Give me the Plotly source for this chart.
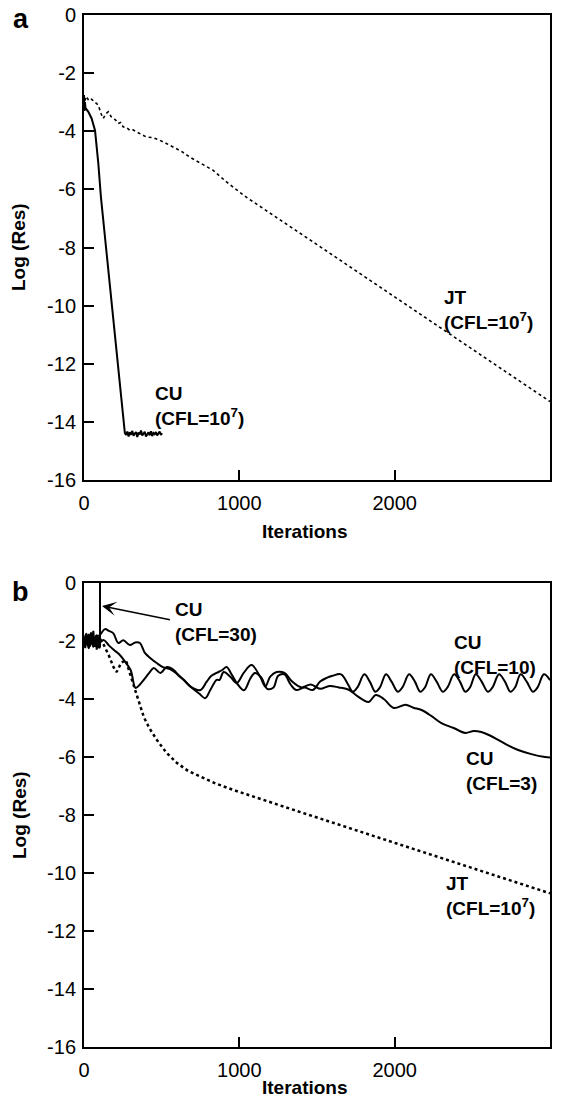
import plotly.graph_objects as go

# ---------------- Panel a data ----------------
a_cu_iter = [0, 3, 6, 10, 16, 28, 49, 71, 92, 109, 263,
             271, 279, 287, 295, 303, 311, 319, 327, 335, 343, 351, 359, 367, 375,
             383, 391, 399, 407, 415, 423, 431, 439, 447, 455, 463, 471, 479, 487,
             495, 503]
a_cu_res = [-2.75, -3.3, -3.0, -3.2, -3.25, -3.33, -3.56, -3.97, -5.1, -6.27, -14.38,
            -14.45, -14.33, -14.5, -14.36, -14.44, -14.31, -14.48, -14.4, -14.35, -14.52,
            -14.37, -14.43, -14.3, -14.47, -14.39, -14.34, -14.5, -14.41, -14.36, -14.46,
            -14.32, -14.49, -14.38, -14.42, -14.35, -14.47, -14.4, -14.33, -14.45, -14.39]

a_jt_iter = [5, 17, 30, 49, 70, 92, 110, 124, 140, 156, 175, 188, 205, 220, 236, 252,
             275, 295, 315, 338, 370, 402, 440, 488, 530, 574, 630, 681, 750, 830, 930,
             1045, 1500, 2000, 2500, 3000]
a_jt_res = [-2.95, -2.8, -2.95, -2.9, -3.0, -3.1, -3.4, -3.56, -3.4, -3.33, -3.5, -3.56,
            -3.62, -3.73, -3.7, -3.85, -3.88, -3.97, -3.95, -4.02, -4.1, -4.2, -4.22, -4.31,
            -4.42, -4.54, -4.7, -4.89, -5.1, -5.34, -5.8, -6.27, -7.9, -9.7, -11.5, -13.3]

# ---------------- Panel b data ----------------
b_cu30_iter = [0, 8, 15, 22, 30, 38, 45, 52, 60, 68, 75, 82, 90, 97, 103, 103]
b_cu30_res = [-1.9, -2.25, -1.8, -2.15, -1.75, -2.2, -1.7, -2.05, -1.65, -2.2, -1.9,
              -2.3, -1.85, -2.25, -2.2, 0.0]

b_cu10_iter = [0, 15, 30, 45, 60, 80, 100, 128, 160, 193, 225, 257, 300, 332, 360, 385,
               420, 449, 492, 533, 578, 610, 642, 685, 749, 789, 820, 854, 890, 918, 950,
               990, 1030, 1070, 1100, 1140, 1180, 1220, 1250, 1290, 1330, 1366, 1420, 1473,
               1520, 1559, 1600, 1655, 1700, 1730, 1760, 1805, 1840, 1875, 1905, 1944, 1980,
               2020, 2050, 2093, 2130, 2165, 2195, 2233, 2270, 2310, 2340, 2383, 2420, 2455,
               2485, 2522, 2560, 2600, 2630, 2672, 2710, 2745, 2775, 2811, 2850, 2890, 2920,
               2961, 3000]
b_cu10_res = [-2.0, -1.75, -2.2, -1.85, -2.15, -1.8, -2.05, -1.97, -2.15, -2.31, -2.45,
              -2.66, -3.0, -3.62, -3.5, -3.34, -3.1, -2.93, -3.1, -2.9, -3.0, -3.2, -3.34,
              -3.57, -3.69, -3.41, -3.2, -3.1, -3.0, -2.9, -3.15, -3.5, -3.7, -3.3, -3.1,
              -3.25, -3.65, -3.6, -3.2, -3.15, -3.5, -3.69, -3.6, -3.69, -3.4, -3.28, -3.2,
              -3.15, -3.5, -3.75, -3.6, -3.15, -3.4, -3.75, -3.6, -3.15, -3.4, -3.75, -3.6,
              -3.15, -3.4, -3.75, -3.6, -3.15, -3.4, -3.75, -3.6, -3.15, -3.4, -3.75, -3.6,
              -3.15, -3.4, -3.75, -3.6, -3.15, -3.4, -3.75, -3.6, -3.15, -3.4, -3.75, -3.6,
              -3.15, -3.35]

b_cu3_iter = [0, 15, 30, 45, 60, 80, 100, 135, 160, 188, 221, 253, 295, 330, 360, 392,
              430, 468, 508, 565, 621, 685, 739, 781, 813, 854, 873, 899, 942, 983, 1028,
              1079, 1134, 1167, 1199, 1240, 1291, 1340, 1400, 1460, 1520, 1580, 1640, 1708,
              1760, 1833, 1878, 1930, 1994, 2070, 2120, 2173, 2240, 2301, 2380, 2455, 2510,
              2558, 2610, 2667, 2730, 2795, 2880, 2968, 3000]
b_cu3_res = [-2.1, -1.9, -2.25, -1.9, -2.2, -1.85, -1.8, -1.59, -1.65, -1.73, -2.07,
             -1.97, -2.14, -2.05, -2.07, -2.41, -2.6, -2.76, -2.9, -3.0, -3.23, -3.57,
             -3.8, -3.97, -3.69, -3.34, -3.34, -3.07, -3.23, -3.45, -3.1, -2.83, -3.23,
             -3.57, -3.23, -3.07, -3.1, -3.4, -3.6, -3.5, -3.65, -3.55, -3.6, -3.69, -3.9,
             -4.1, -3.86, -4.0, -4.31, -4.2, -4.3, -4.38, -4.6, -4.83, -5.0, -5.17, -5.1,
             -5.14, -5.25, -5.41, -5.6, -5.76, -5.9, -6.0, -6.02]

b_jt_iter = [0, 20, 40, 60, 80, 100, 128, 160, 190, 210, 240, 270, 300, 321, 350, 385,
             420, 469, 530, 597, 670, 751, 850, 963, 1080, 1200, 1393, 2000, 2500, 3000]
b_jt_res = [-2.0, -1.8, -2.15, -1.85, -2.1, -1.9, -2.14, -2.5, -2.9, -3.07, -2.75, -2.66,
            -3.2, -3.57, -4.0, -4.62, -5.0, -5.41, -5.85, -6.2, -6.48, -6.68, -6.92, -7.14,
            -7.35, -7.55, -7.9, -8.96, -9.83, -10.7]

x_ticks = [0, 1000, 2000, 3000]
x_tick_text = ["0", "1000", "2000", "3000"]
y_ticks = [0, -2, -4, -6, -8, -10, -12, -14, -16]
y_tick_text = ["0", "-2", "-4", "-6", "-8", "-10", "-12", "-14", "-16"]

FONT = "Liberation Sans, Arial, Helvetica, sans-serif"
W, H = 570, 1099
XL, XR = 84, 550
A_TOP, A_BOT = 15, 480
B_TOP, B_BOT = 583, 1047

fig = go.Figure()

solid = dict(color="black", width=2)
fig.add_trace(go.Scatter(x=a_cu_iter, y=a_cu_res, mode="lines", line=solid,
                         xaxis="x", yaxis="y", showlegend=False))
fig.add_trace(go.Scatter(x=a_jt_iter, y=a_jt_res, mode="lines",
                         line=dict(color="black", width=1.6, dash="dot"),
                         xaxis="x", yaxis="y", showlegend=False))

fig.add_trace(go.Scatter(x=b_cu30_iter, y=b_cu30_res, mode="lines", line=solid,
                         xaxis="x2", yaxis="y2", showlegend=False))
fig.add_trace(go.Scatter(x=b_cu10_iter, y=b_cu10_res, mode="lines", line=solid,
                         line_shape="spline", xaxis="x2", yaxis="y2", showlegend=False))
fig.add_trace(go.Scatter(x=b_cu3_iter, y=b_cu3_res, mode="lines", line=solid,
                         line_shape="spline", xaxis="x2", yaxis="y2", showlegend=False))
fig.add_trace(go.Scatter(x=b_jt_iter, y=b_jt_res, mode="lines",
                         line=dict(color="black", width=2.5, dash="dot"),
                         xaxis="x2", yaxis="y2", showlegend=False))

axis_common = dict(showline=True, linecolor="black", linewidth=2, mirror=True,
                   ticks="inside", ticklen=10, tickwidth=2, tickcolor="black",
                   showgrid=False, zeroline=False, automargin=False,
                   tickfont=dict(family=FONT, size=20, color="black"))

xdom = [XL / W, XR / W]
xcommon = dict(domain=xdom, range=[0, 3000], tickvals=x_ticks, ticktext=x_tick_text,
               ticklabelstandoff=4, **axis_common)
ycommon = dict(range=[-16, 0], tickvals=y_ticks, ticktext=y_tick_text,
               ticklabelstandoff=2, **axis_common)
fig.update_layout(
    width=W, height=H, autosize=False,
    margin=dict(l=0, r=0, t=0, b=0, autoexpand=False),
    paper_bgcolor="white", plot_bgcolor="white",
    xaxis=dict(anchor="y", **xcommon),
    yaxis=dict(domain=[1 - A_BOT / H, 1 - A_TOP / H], anchor="x", **ycommon),
    xaxis2=dict(anchor="y2", **xcommon),
    yaxis2=dict(domain=[1 - B_BOT / H, 1 - B_TOP / H], anchor="x2", **ycommon),
)

title_font = dict(family=FONT, size=19, color="black")


def paper_text(px, py, text, size=19, angle=0):
    fig.add_annotation(x=px / W, y=1 - py / H, xref="paper", yref="paper", text=text,
                       showarrow=False, xanchor="center", yanchor="middle",
                       textangle=angle, font=dict(family=FONT, size=size, color="black"))


# axis titles
paper_text(305, 531, "<b>Iterations</b>")
paper_text(305, 1087, "<b>Iterations</b>")
paper_text(19, 247, "<b>Log (Res)</b>", angle=-90)
paper_text(19, 815, "<b>Log (Res)</b>", angle=-90)

# panel letters
paper_text(21, 19, "<b>a</b>", size=27)
paper_text(21, 592, "<b>b</b>", size=27)

ann_font = dict(family=FONT, size=19, color="black")


def label(x, y, text, xref, yref):
    fig.add_annotation(x=x, y=y, xref=xref, yref=yref, text=text,
                       showarrow=False, xanchor="left", yanchor="middle", align="left",
                       font=ann_font)


# panel a labels
label(443, -13.45, "<b>CU<br>(CFL=10<sup>7</sup>)</b>", "x", "y")
label(2303, -10.15, "<b>JT<br>(CFL=10<sup>7</sup>)</b>", "x", "y")

# panel b labels
label(572, -1.36, "<b>CU<br>(CFL=30)</b>", "x2", "y2")
label(2370, -2.47, "<b>CU<br>(CFL=10)</b>", "x2", "y2")
label(2447, -6.47, "<b>CU<br>(CFL=3)</b>", "x2", "y2")
label(2318, -10.79, "<b>JT<br>(CFL=10<sup>7</sup>)</b>", "x2", "y2")

# arrow for CFL=30
fig.add_annotation(x=116, y=-0.79, ax=563, ay=-1.28, xref="x2", yref="y2",
                   axref="x2", ayref="y2", text="", showarrow=True,
                   arrowhead=3, arrowsize=1.6, arrowwidth=1.5, arrowcolor="black")

fig.write_html("out.html", config={"displayModeBar": False},
               post_script="document.body.style.margin='0';document.body.style.overflow='hidden';")
